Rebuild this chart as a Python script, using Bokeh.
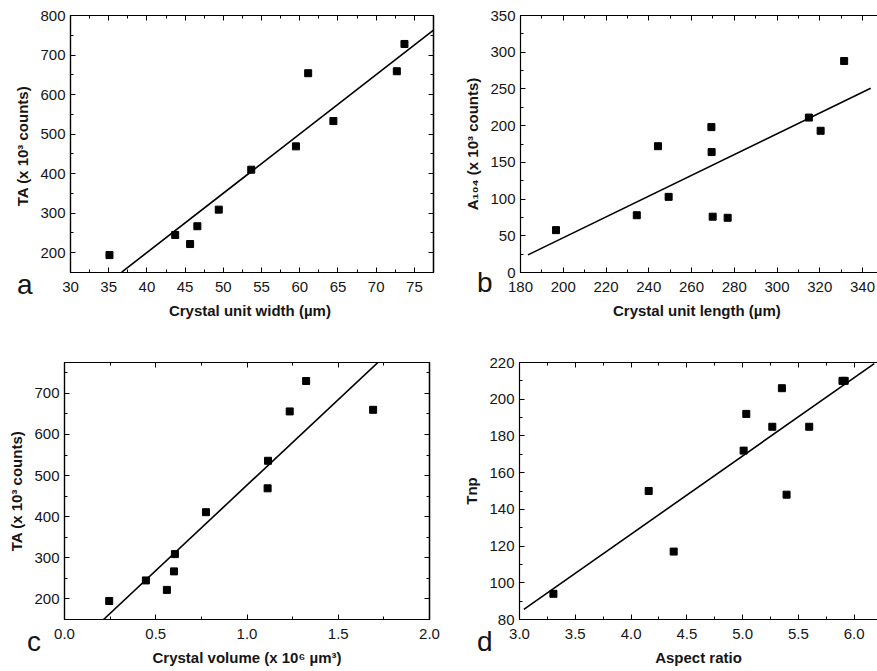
import numpy as np
from bokeh.plotting import figure
from bokeh.layouts import column, row
from bokeh.models import (LinearAxis, SingleIntervalTicker, FixedTicker, NumeralTickFormatter,
                          Range1d, Div)
from bokeh.embed import file_html
from bokeh.resources import INLINE

# ---- data ----
a_width = [35.1, 43.7, 45.65, 46.6, 49.4, 53.65, 59.5, 61.1, 64.4, 72.7, 73.7]
a_ta = [194, 245, 222, 267, 309, 410, 469, 654, 533, 659, 728]
fit_a_x = [36.7, 77.5]
fit_a_y = [151, 763]

b_length = [196.6, 234.4, 244.3, 249.3, 269.3, 269.4, 269.9, 276.9, 314.9, 320.4, 331.4]
b_a104 = [57.7, 78, 172, 103, 198, 164, 76, 74.5, 211, 193, 288]
fit_b_x = [183.5, 343.8]
fit_b_y = [24, 251]

c_volume = [0.245, 0.446, 0.561, 0.600, 0.605, 0.775, 1.113, 1.115, 1.234, 1.324, 1.691]
c_ta = [195, 245, 222, 267, 309, 411, 469, 536, 656, 730, 660]
fit_c_x = [0.214, 1.722]
fit_c_y = [150, 777]

d_ratio = [3.304, 4.158, 4.382, 5.009, 5.033, 5.266, 5.352, 5.394, 5.597, 5.895, 5.915]
d_tnp = [94, 150, 117, 172, 192, 185, 206, 148, 185, 210, 210]
fit_d_x = [3.039, 6.18]
fit_d_y = [85.5, 219.4]

FONT = "Liberation Sans"
TXT = "#151515"


def tick_positions(lo, hi, step):
    start = np.ceil(lo / step - 1e-9) * step
    major = [float(v) for v in np.arange(start, hi + 1e-9, step)]
    mstart = np.ceil((lo - step / 2) / step - 1e-9) * step + step / 2
    minor = [float(v) for v in np.arange(mstart, hi + 1e-9, step) if v >= lo - 1e-9]
    return major, minor


def style_axis(ax, fmt=None):
    ax.axis_line_color = "black"
    ax.axis_line_width = 1.2
    ax.major_tick_in = 5
    ax.major_tick_out = 0
    ax.minor_tick_in = 3
    ax.minor_tick_out = 0
    ax.major_tick_line_color = "black"
    ax.minor_tick_line_color = "black"
    ax.major_label_text_font = FONT
    ax.major_label_text_color = TXT
    ax.major_label_text_font_size = "15px"
    ax.major_label_standoff = 5
    ax.axis_label_text_font = FONT
    ax.axis_label_text_font_size = "15px"
    ax.axis_label_text_font_style = "bold"
    ax.axis_label_text_color = TXT
    if fmt:
        ax.formatter = NumeralTickFormatter(format=fmt)


def mirror_axes(p, lo, hi, step, side):
    major, minor = tick_positions(lo, hi, step)
    for pos, ln in ((major, 5), (minor, 3)):
        ax = LinearAxis(ticker=FixedTicker(ticks=[], minor_ticks=pos))
        ax.axis_line_color = "black"
        ax.axis_line_width = 1.2
        ax.major_tick_in = 0
        ax.major_tick_out = 0
        ax.minor_tick_in = ln
        ax.minor_tick_out = 0
        ax.minor_tick_line_color = "black"
        ax.major_label_standoff = 0
        p.add_layout(ax, side)


def make(xs, ys, fx, fy, xr, yr, xint, yint, xlab, ylab, w, h, bl, br, bt, bb,
         mirror_right=True, fmt=None):
    p = figure(width=w, height=h, x_range=Range1d(*xr), y_range=Range1d(*yr),
               output_backend="svg", toolbar_location=None,
               x_axis_type=None, y_axis_type=None,
               min_border_left=bl, min_border_right=br, min_border_top=bt,
               min_border_bottom=bb)
    p.xgrid.visible = False
    p.ygrid.visible = False
    p.outline_line_color = "black" if mirror_right else None
    p.outline_line_width = 1.2
    p.background_fill_color = "white"
    p.border_fill_color = "white"

    xb = LinearAxis(ticker=SingleIntervalTicker(interval=xint, num_minor_ticks=2), axis_label=xlab)
    style_axis(xb, fmt)
    xb.major_label_standoff = 9
    xb.axis_label_standoff = 7
    p.add_layout(xb, "below")
    yl = LinearAxis(ticker=SingleIntervalTicker(interval=yint, num_minor_ticks=2), axis_label=ylab)
    style_axis(yl)
    yl.axis_label_standoff = 6
    p.add_layout(yl, "left")
    mirror_axes(p, xr[0], xr[1], xint, "above")
    if mirror_right:
        mirror_axes(p, yr[0], yr[1], yint, "right")

    p.line(fx, fy, line_color="black", line_width=1.6)
    p.scatter(xs, ys, marker="square", size=7, fill_color="black", line_color="black")
    return p


def letter(txt, left, top, slot_left):
    w = 30
    return Div(text=txt, width=w, height=40,
               margin=(top, slot_left - left - w, 0, left - slot_left),
               styles={"font-family": FONT, "font-size": "28px", "color": TXT,
                       "line-height": "1"})


pa = make(a_width, a_ta, fit_a_x, fit_a_y, (30, 77.5), (150, 800), 5, 100,
          "Crystal unit width  (µm)", "TA  (x 10³ counts)",
          448, 330, 70, 15, 15, 58)
pb = make(b_length, b_a104, fit_b_x, fit_b_y, (180, 347.0), (0, 350), 20, 50,
          "Crystal unit length  (µm)", "A₁₀₄ (x 10³ counts)",
          429, 330, 72, 0, 15, 58, mirror_right=False)
pc = make(c_volume, c_ta, fit_c_x, fit_c_y, (0, 2.0), (150, 775), 0.5, 100,
          "Crystal volume (x 10⁶ µm³)", "TA (x 10³ counts)",
          448, 341, 64, 19, 32, 52, fmt="0.0")
pd_ = make(d_ratio, d_tnp, fit_d_x, fit_d_y, (3.0, 6.209), (80, 220), 0.5, 20,
           "Aspect ratio", "Tnp",
           429, 341, 71, 0, 32, 52, mirror_right=False, fmt="0.0")

top_row = row(pa, letter("a", 17, 271, 448), pb, letter("b", 477, 269, 877))
bot_row = row(pc, letter("c", 27, 298, 448), pd_, letter("d", 477, 298, 877))
layout = column(top_row, bot_row)
open("out.html", "w").write(file_html(layout, INLINE))
